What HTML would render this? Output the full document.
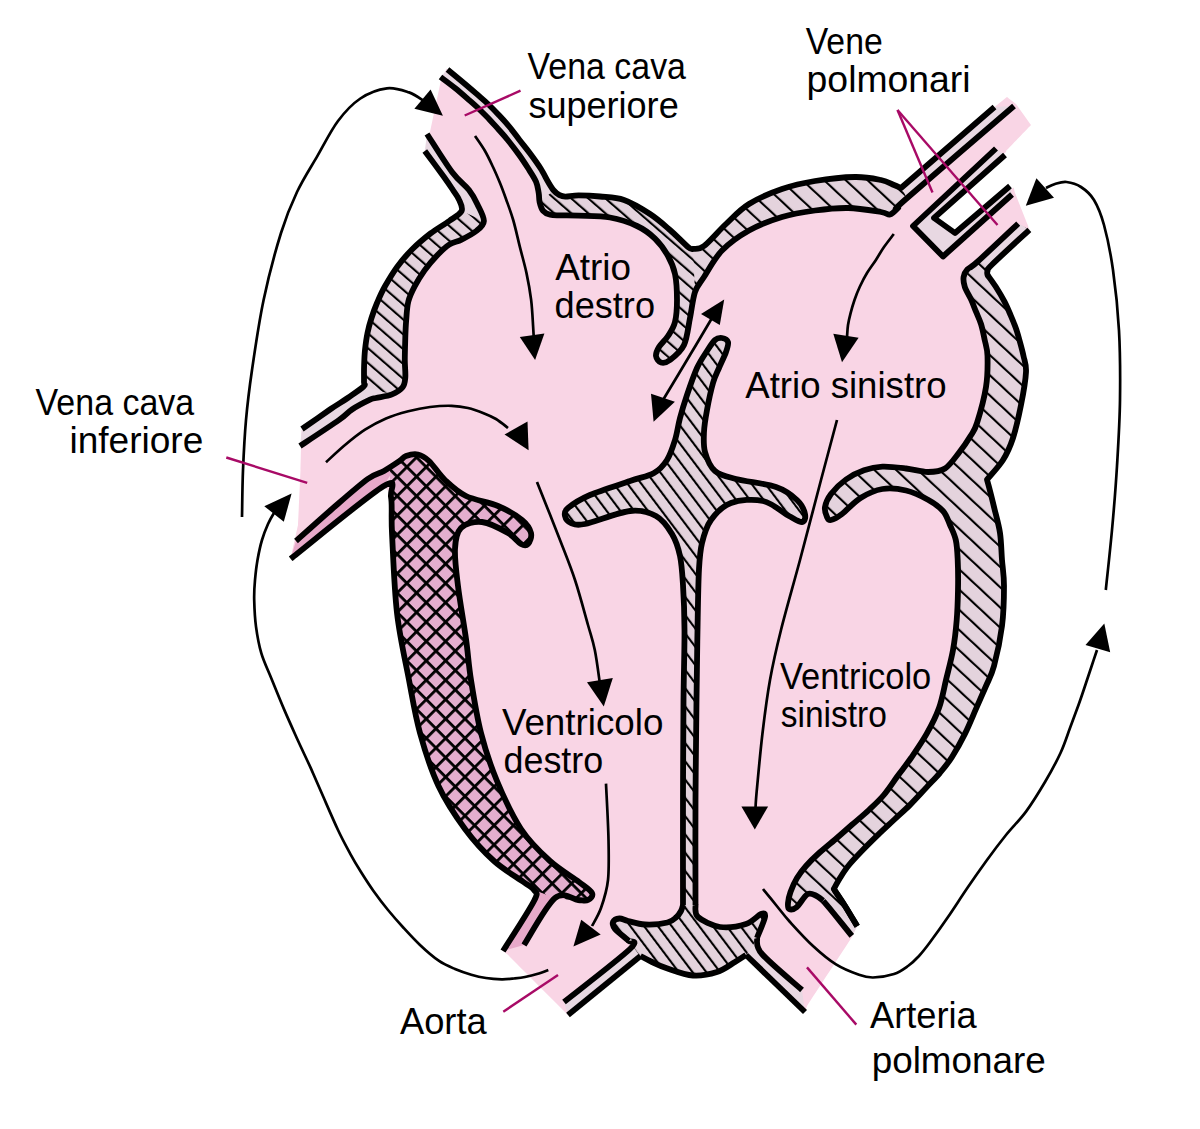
<!DOCTYPE html>
<html><head><meta charset="utf-8"><title>Cuore</title>
<style>html,body{margin:0;padding:0;background:#fff;}body{width:1200px;height:1129px;overflow:hidden;font-family:"Liberation Sans",sans-serif;}svg{display:block;}</style>
</head><body>
<svg width="1200" height="1129" viewBox="0 0 1200 1129"><defs>
<pattern id="hatch" patternUnits="userSpaceOnUse" width="11.20" height="11.20" patternTransform="rotate(-49)"><rect width="11.20" height="11.20" fill="#E4D3DD"/><rect x="0" y="0" width="2.10" height="11.20" fill="#000"/></pattern>
<pattern id="hatchS" patternUnits="userSpaceOnUse" width="11.00" height="11.00" patternTransform="rotate(-37)"><rect width="11.00" height="11.00" fill="#E4D3DD"/><rect x="0" y="0" width="2.10" height="11.00" fill="#000"/></pattern>
<pattern id="hatchW" patternUnits="userSpaceOnUse" width="14.80" height="14.80" patternTransform="rotate(-47)"><rect width="14.80" height="14.80" fill="#E4D3DD"/><rect x="0" y="0" width="2.10" height="14.80" fill="#000"/></pattern>
<pattern id="xhatch" patternUnits="userSpaceOnUse" width="13.7" height="13.7" patternTransform="rotate(45)"><rect width="13.7" height="13.7" fill="#E4AECE"/><rect x="0" y="0" width="2.8" height="13.7" fill="#000"/><rect x="0" y="0" width="13.7" height="2.8" fill="#000"/></pattern>
</defs>
<path d="M441.0,80.0 C441.8,78.3 445.2,71.7 446.0,70.0 C446.2,69.9 444.8,67.6 447.5,69.5 C450.2,71.4 457.2,77.5 462.0,81.5 C466.8,85.5 471.7,89.7 476.0,93.4 C480.3,97.2 484.1,100.3 488.0,104.0 C491.9,107.7 495.4,111.4 499.1,115.3 C502.8,119.2 506.6,123.4 510.0,127.5 C513.4,131.6 516.2,135.7 519.5,140.0 C522.8,144.3 526.4,148.6 529.9,153.3 C533.4,158.0 537.4,163.4 540.5,168.3 C543.6,173.2 546.3,178.8 548.5,182.5 C550.7,186.2 552.0,188.4 553.8,190.5 C555.6,192.6 557.2,193.9 559.1,194.9 C561.0,195.9 562.0,196.6 565.3,196.7 C568.5,196.8 572.8,195.4 578.6,195.4 C584.4,195.4 592.4,195.7 600.0,196.5 C607.6,197.3 615.7,197.1 624.0,200.0 C632.3,202.9 642.3,209.0 650.0,214.0 C657.7,219.0 663.7,224.5 670.0,230.0 C676.3,235.5 684.2,243.8 688.0,247.0 C691.8,250.2 690.3,249.2 693.0,249.0 C695.7,248.8 698.5,250.2 704.0,246.0 C709.5,241.8 718.5,231.0 726.0,224.0 C733.5,217.0 739.7,209.8 749.0,204.0 C758.3,198.2 771.0,192.8 782.0,189.0 C793.0,185.2 802.8,183.0 815.0,181.0 C827.2,179.0 844.0,177.2 855.0,177.0 C866.0,176.8 874.5,178.7 881.0,180.0 C887.5,181.3 890.7,183.7 894.0,185.0 C897.3,186.3 884.2,201.0 901.0,188.0 C917.8,175.0 978.9,120.5 994.5,107.0 C996.6,105.3 1004.9,98.7 1007.0,97.0 C1008.5,98.2 1014.5,102.8 1016.0,104.0 C1018.5,107.5 1028.5,121.5 1031.0,125.0 C1026.8,129.3 1010.2,146.7 1006.0,151.0 C1007.5,158.0 1013.5,186.0 1015.0,193.0 C1017.1,198.2 1025.5,219.2 1027.6,224.4 C1027.9,225.3 1029.0,228.9 1029.3,229.8 C1023.1,235.6 999.1,257.6 992.1,264.5 C985.1,271.4 988.3,269.2 987.5,271.0 C986.7,272.8 986.1,272.4 987.5,275.0 C988.9,277.6 993.0,282.4 995.8,286.8 C998.6,291.2 1002.0,296.9 1004.5,301.7 C1007.0,306.5 1008.8,311.0 1010.7,315.4 C1012.6,319.8 1014.2,323.7 1015.7,327.8 C1017.2,331.9 1018.1,335.3 1019.4,340.0 C1020.7,344.7 1022.4,350.7 1023.5,356.0 C1024.6,361.3 1026.4,363.8 1026.0,372.0 C1025.6,380.2 1023.2,394.0 1021.0,405.0 C1018.8,416.0 1016.0,428.8 1013.0,438.0 C1010.0,447.2 1007.3,453.1 1003.0,460.0 C998.7,466.9 989.3,475.0 987.0,479.5 C984.7,484.0 987.8,482.4 989.0,487.0 C990.2,491.6 992.2,499.3 994.0,507.0 C995.8,514.7 998.7,524.2 1000.0,533.0 C1001.3,541.8 1001.3,551.2 1002.0,560.0 C1002.7,568.8 1004.0,575.0 1004.0,586.0 C1004.0,597.0 1003.7,612.7 1002.0,626.0 C1000.3,639.3 996.7,656.0 994.0,666.0 C991.3,676.0 989.0,679.0 986.0,686.0 C983.0,693.0 979.7,700.3 976.2,708.3 C972.7,716.3 968.9,725.8 964.9,733.9 C960.9,742.0 956.1,750.5 952.0,757.0 C947.9,763.5 944.3,767.7 940.0,772.8 C935.7,777.9 931.2,782.3 926.3,787.6 C921.3,792.9 915.6,799.3 910.3,804.6 C905.0,809.9 899.7,814.5 894.4,819.5 C889.1,824.5 883.8,829.3 878.5,834.4 C873.2,839.5 867.4,845.2 862.5,850.3 C857.6,855.4 852.8,860.4 849.0,865.0 C845.2,869.6 842.5,874.0 840.0,878.0 C837.5,882.0 833.1,884.5 833.8,889.0 C834.5,893.5 840.5,898.8 844.4,905.0 C848.3,911.2 855.1,922.8 857.2,926.3 C856.3,928.1 852.9,935.2 852.0,937.0 C844.5,948.5 814.5,994.5 807.0,1006.0 C806.7,1007.0 805.3,1011.0 805.0,1012.0 C795.2,1002.5 755.8,964.5 746.0,955.0 C736.2,945.5 747.8,953.8 746.0,955.0 C744.2,956.2 739.8,959.2 735.0,962.0 C730.2,964.8 724.0,969.8 717.0,972.0 C710.0,974.2 701.2,976.1 693.0,975.5 C684.8,974.9 674.3,970.8 667.5,968.5 C660.7,966.2 656.5,964.1 652.0,962.0 C647.5,959.9 642.4,957.0 640.5,956.0 C628.4,965.8 580.1,1005.2 568.0,1015.0 C557.8,1004.8 517.2,964.2 507.0,954.0 C506.3,953.5 503.7,951.5 503.0,951.0 C508.2,942.7 528.8,911.2 534.0,901.0 C539.2,890.8 535.8,893.2 534.0,890.0 C532.2,886.8 530.2,886.8 523.5,882.0 C516.8,877.2 503.8,869.8 494.0,861.0 C484.2,852.2 474.2,841.5 465.0,829.0 C455.8,816.5 446.0,802.0 438.5,786.0 C431.0,770.0 424.9,750.7 420.0,733.0 C415.1,715.3 412.8,700.0 409.0,680.0 C405.2,660.0 399.8,637.5 397.0,613.0 C394.2,588.5 393.0,552.3 392.0,533.0 C391.0,513.7 392.5,504.8 391.0,497.0 C389.5,489.2 384.3,488.2 383.0,486.5 C367.6,498.6 306.0,546.8 290.6,558.8 C291.8,553.2 296.8,530.6 298.0,525.0 C298.4,515.8 300.1,479.2 300.5,470.0 C300.7,463.5 301.3,437.5 301.5,431.0 C301.6,430.7 301.9,429.3 302.0,429.0 C306.7,425.8 322.4,414.7 330.0,409.5 C337.6,404.3 342.1,401.9 347.7,398.0 C353.3,394.1 361.0,389.1 363.7,386.4 C366.4,383.7 363.9,385.4 364.0,382.0 C364.1,378.6 363.9,371.3 364.1,366.0 C364.3,360.7 364.4,355.5 365.0,350.0 C365.6,344.5 366.4,338.3 367.5,333.0 C368.6,327.7 369.9,323.0 371.5,318.0 C373.1,313.0 374.8,308.2 377.0,303.0 C379.2,297.8 381.3,292.7 384.7,286.7 C388.1,280.7 392.6,273.1 397.1,266.9 C401.7,260.7 406.4,255.1 412.0,249.5 C417.6,243.9 424.4,238.2 430.6,233.4 C436.8,228.7 444.0,224.7 449.2,221.0 C454.4,217.3 460.0,214.5 461.6,211.0 C463.2,207.5 460.6,203.4 459.1,199.9 C457.7,196.4 455.4,193.8 452.9,190.0 C450.4,186.2 448.7,183.5 444.0,177.0 C439.3,170.5 428.0,155.3 424.8,151.0 C425.2,150.2 426.6,146.8 427.0,146.0 Z" fill="#F9D5E5"/>
<path d="M1006.0,152.0 L935.0,218.0 L955.0,233.0 L1013.0,188.0 L1040.0,170.0 L1040.0,140.0 Z" fill="#fff"/>
<path d="M447.5,69.5 C449.9,71.5 457.2,77.5 462.0,81.5 C466.8,85.5 471.7,89.7 476.0,93.4 C480.3,97.2 484.1,100.3 488.0,104.0 C491.9,107.7 495.4,111.4 499.1,115.3 C502.8,119.2 506.6,123.4 510.0,127.5 C513.4,131.6 516.2,135.7 519.5,140.0 C522.8,144.3 526.4,148.6 529.9,153.3 C533.4,158.0 537.4,163.4 540.5,168.3 C543.6,173.2 546.3,178.8 548.5,182.5 C550.7,186.2 552.0,188.4 553.8,190.5 C555.6,192.6 560.9,191.5 559.1,194.9 C557.3,198.3 546.4,209.7 543.1,210.9 C539.9,212.1 540.3,205.0 539.6,202.0 C538.9,199.0 539.3,196.5 538.7,193.1 C538.1,189.7 537.8,185.7 536.0,181.6 C534.2,177.5 530.9,172.7 528.1,168.3 C525.3,163.9 522.6,159.7 519.2,155.0 C515.8,150.3 511.1,144.2 507.7,140.0 C504.3,135.8 502.0,133.3 499.0,130.0 C496.0,126.7 493.2,123.4 489.9,119.9 C486.6,116.4 482.6,112.5 479.0,109.0 C475.4,105.5 472.0,102.6 468.0,99.1 C464.0,95.6 459.6,91.7 455.0,88.0 C450.4,84.3 442.9,78.8 440.5,77.0 Z" fill="#E8D8E2"/>
<path d="M901.0,188.0 L994.5,107.0 L1014.0,106.0 L903.0,203.0 Z" fill="#E8D8E2"/>
<path d="M553.8,190.5 C554.7,191.2 557.2,193.9 559.1,194.9 C561.0,195.9 562.0,196.6 565.3,196.7 C568.5,196.8 572.8,195.4 578.6,195.4 C584.4,195.4 592.4,195.7 600.0,196.5 C607.6,197.3 615.7,197.1 624.0,200.0 C632.3,202.9 642.3,209.0 650.0,214.0 C657.7,219.0 663.7,224.5 670.0,230.0 C676.3,235.5 684.2,243.8 688.0,247.0 C691.8,250.2 691.8,241.5 693.0,249.0 C694.2,256.5 695.5,280.5 695.0,292.0 C694.5,303.5 691.8,309.2 690.0,318.0 C688.2,326.8 687.3,338.0 684.0,345.0 C680.7,352.0 673.8,357.1 670.0,360.0 C666.2,362.9 663.3,363.2 661.0,362.5 C658.7,361.8 656.3,358.6 656.0,356.0 C655.7,353.4 657.0,350.3 659.0,347.0 C661.0,343.7 665.3,340.2 668.0,336.0 C670.7,331.8 673.5,328.0 675.0,322.0 C676.5,316.0 677.0,308.0 677.0,300.0 C677.0,292.0 676.5,281.3 675.0,274.0 C673.5,266.7 671.3,261.9 668.0,256.0 C664.7,250.1 660.2,243.6 655.0,238.6 C649.8,233.6 644.5,229.5 637.0,226.0 C629.5,222.5 619.7,219.2 610.0,217.5 C600.3,215.8 586.8,216.1 578.6,215.7 C570.4,215.3 565.6,215.5 560.9,215.3 C556.2,215.2 553.2,215.5 550.2,214.8 C547.2,214.1 544.9,213.0 543.1,210.9 C541.3,208.8 540.2,203.5 539.6,202.0 Z" fill="url(#hatch)"/>
<path d="M693.0,249.0 C694.8,248.5 698.5,250.2 704.0,246.0 C709.5,241.8 718.5,231.0 726.0,224.0 C733.5,217.0 739.7,209.8 749.0,204.0 C758.3,198.2 771.0,192.8 782.0,189.0 C793.0,185.2 802.8,183.0 815.0,181.0 C827.2,179.0 844.0,177.2 855.0,177.0 C866.0,176.8 874.5,178.7 881.0,180.0 C887.5,181.3 890.7,183.7 894.0,185.0 C897.3,186.3 899.0,185.7 901.0,188.0 C903.0,190.3 906.5,195.7 906.0,199.0 C905.5,202.3 900.7,205.4 898.0,208.0 C895.3,210.6 892.8,213.8 890.0,214.5 C887.2,215.2 888.0,213.1 881.0,212.0 C874.0,210.9 859.0,208.2 848.0,208.0 C837.0,207.8 826.0,209.0 815.0,210.5 C804.0,212.0 793.0,213.7 782.0,217.0 C771.0,220.3 759.0,224.9 749.0,230.5 C739.0,236.1 729.5,242.8 722.0,250.5 C714.5,258.2 708.5,270.1 704.0,277.0 C699.5,283.9 696.5,289.5 695.0,292.0 Z" fill="url(#hatchW)"/>
<path d="M424.8,151.0 C428.0,155.3 439.3,170.5 444.0,177.0 C448.7,183.5 450.4,186.2 452.9,190.0 C455.4,193.8 457.7,196.4 459.1,199.9 C460.6,203.4 457.5,207.5 461.6,211.0 C465.7,214.5 481.2,222.0 483.9,221.0 C486.6,220.0 480.2,210.1 477.7,204.9 C475.2,199.7 473.3,195.5 469.0,190.0 C464.7,184.5 459.0,181.3 452.0,172.0 C445.0,162.7 431.2,140.3 427.0,134.0 Z" fill="#E8D8E2"/>
<path d="M461.6,211.0 C459.5,212.7 454.4,217.3 449.2,221.0 C444.0,224.7 436.8,228.7 430.6,233.4 C424.4,238.2 417.6,243.9 412.0,249.5 C406.4,255.1 401.7,260.7 397.1,266.9 C392.6,273.1 388.1,280.7 384.7,286.7 C381.3,292.7 379.2,297.8 377.0,303.0 C374.8,308.2 373.1,313.0 371.5,318.0 C369.9,323.0 368.6,327.7 367.5,333.0 C366.4,338.3 365.6,344.5 365.0,350.0 C364.4,355.5 364.3,360.7 364.1,366.0 C363.9,371.3 364.1,378.6 364.0,382.0 C363.9,385.4 362.4,384.4 363.7,386.4 C365.0,388.4 367.3,392.7 372.0,394.0 C376.7,395.3 386.9,395.5 392.0,394.4 C397.1,393.3 400.8,388.5 402.6,387.3 C404.4,386.1 402.2,388.9 402.6,387.3 C403.1,385.7 404.9,382.2 405.3,377.6 C405.7,373.1 404.8,366.6 404.8,360.0 C404.8,353.4 405.1,344.4 405.3,337.7 C405.5,331.0 405.7,326.0 406.2,320.0 C406.7,314.0 406.9,307.2 408.3,301.6 C409.7,296.1 411.8,291.9 414.5,286.7 C417.2,281.5 420.7,275.8 424.4,270.6 C428.1,265.4 432.7,260.0 436.8,255.7 C440.9,251.4 445.1,247.3 449.2,244.6 C453.3,241.9 457.1,241.9 461.6,239.6 C466.2,237.3 472.8,234.0 476.5,230.9 C480.2,227.8 482.7,222.7 483.9,221.0 Z" fill="url(#hatch)"/>
<path d="M363.7,386.4 L347.7,398.0 L330.0,409.5 L302.0,429.0 L300.0,446.0 L339.0,420.0 L352.0,409.5 L370.0,399.7 L376.0,398.0 L392.0,394.4 Z" fill="#E8D8E2"/>
<path d="M296.0,541.0 L332.0,509.0 L367.7,479.0 L384.0,471.0 L399.6,461.0 L383.0,486.5 L290.6,558.8 Z" fill="#E7A9C9"/>
<path d="M390.0,466.0 C391.6,465.2 396.9,462.7 399.6,461.0 C402.3,459.3 402.9,457.1 406.0,456.0 C409.1,454.9 414.2,453.7 418.0,454.5 C421.8,455.3 424.5,456.8 429.0,461.0 C433.5,465.2 438.8,474.2 445.0,480.0 C451.2,485.8 457.2,491.7 466.0,496.0 C474.8,500.3 488.7,502.0 498.0,506.0 C507.3,510.0 516.5,515.5 522.0,520.0 C527.5,524.5 530.0,529.0 531.0,533.0 C532.0,537.0 529.7,542.2 528.0,544.0 C526.3,545.8 524.3,545.8 521.0,544.0 C517.7,542.2 514.5,536.7 508.0,533.0 C501.5,529.3 489.8,522.8 482.0,522.0 C474.2,521.2 465.5,523.5 461.0,528.0 C456.5,532.5 455.5,539.3 455.0,549.0 C454.5,558.7 456.2,571.0 458.0,586.0 C459.8,601.0 463.8,623.3 466.0,639.0 C468.2,654.7 468.5,664.3 471.0,680.0 C473.5,695.7 476.7,716.2 481.0,733.0 C485.3,749.8 490.3,765.0 497.0,781.0 C503.7,797.0 512.2,815.7 521.0,829.0 C529.8,842.3 540.3,852.2 550.0,861.0 C559.7,869.8 572.0,876.7 579.0,882.0 C586.0,887.3 590.5,890.0 592.0,893.0 C593.5,896.0 590.3,898.8 588.0,900.0 C585.7,901.2 583.5,900.3 578.0,900.0 C572.5,899.7 562.3,899.7 555.0,898.0 C547.7,896.3 539.2,892.7 534.0,890.0 C528.8,887.3 530.2,886.8 523.5,882.0 C516.8,877.2 503.8,869.8 494.0,861.0 C484.2,852.2 474.2,841.5 465.0,829.0 C455.8,816.5 446.0,802.0 438.5,786.0 C431.0,770.0 424.9,750.7 420.0,733.0 C415.1,715.3 412.8,700.0 409.0,680.0 C405.2,660.0 399.8,637.5 397.0,613.0 C394.2,588.5 393.0,552.3 392.0,533.0 C391.0,513.7 391.3,504.2 391.0,497.0 C390.7,489.8 390.2,491.2 390.0,490.0 Z" fill="url(#xhatch)"/>
<path d="M555.0,898.0 L524.0,945.0 L503.0,951.0 L534.0,901.0 L534.0,890.0 Z" fill="#E7A9C9"/>
<path d="M629.0,941.0 L630.0,949.0 L564.0,1002.0 L568.0,1015.0 L640.5,956.0 Z" fill="#E8D8E2"/>
<path d="M757.0,938.0 L762.0,954.0 L802.0,990.0 L805.0,1012.0 L746.0,955.0 Z" fill="#E8D8E2"/>
<path d="M823.1,900.8 L833.8,913.5 L851.8,935.9 L857.2,926.3 L844.4,905.0 L833.8,889.0 Z" fill="#E8D8E2"/>
<path d="M722.0,338.0 C723.0,338.7 727.3,339.7 728.0,342.0 C728.7,344.3 727.5,347.7 726.0,352.0 C724.5,356.3 721.2,362.8 719.0,368.0 C716.8,373.2 715.0,376.0 713.0,383.0 C711.0,390.0 708.5,401.8 707.0,410.0 C705.5,418.2 704.3,425.0 704.0,432.0 C703.7,439.0 703.2,445.5 705.0,452.0 C706.8,458.5 709.8,466.5 715.0,471.0 C720.2,475.5 725.8,476.3 736.0,479.0 C746.2,481.7 765.8,483.5 776.0,487.0 C786.2,490.5 792.2,495.5 797.0,500.0 C801.8,504.5 804.2,510.3 805.0,514.0 C805.8,517.7 804.7,521.7 802.0,522.0 C799.3,522.3 795.5,519.5 789.0,516.0 C782.5,512.5 772.7,503.2 763.0,501.0 C753.3,498.8 739.7,499.8 731.0,503.0 C722.3,506.2 715.8,513.3 711.0,520.0 C706.2,526.7 704.0,534.8 702.0,543.0 C700.0,551.2 699.8,554.5 699.0,569.0 C698.2,583.5 697.9,608.2 697.5,630.0 C697.1,651.8 696.8,671.7 696.5,700.0 C696.2,728.3 695.7,765.8 695.5,800.0 C695.3,834.2 697.6,887.5 695.5,905.0 C693.4,922.5 685.1,922.5 683.0,905.0 C680.9,887.5 682.9,834.2 683.0,800.0 C683.1,765.8 683.2,728.3 683.5,700.0 C683.8,671.7 684.6,649.2 684.5,630.0 C684.4,610.8 683.8,597.3 683.0,585.0 C682.2,572.7 681.8,564.5 680.0,556.0 C678.2,547.5 676.0,540.7 672.0,534.0 C668.0,527.3 663.0,519.8 656.0,516.0 C649.0,512.2 641.8,509.7 630.0,511.0 C618.2,512.3 594.8,522.0 585.0,524.0 C575.2,526.0 574.3,524.3 571.0,523.0 C567.7,521.7 565.5,518.5 565.0,516.0 C564.5,513.5 563.8,511.5 568.0,508.0 C572.2,504.5 579.7,499.5 590.0,495.0 C600.3,490.5 619.3,484.7 630.0,481.0 C640.7,477.3 647.8,476.5 654.0,473.0 C660.2,469.5 663.5,465.5 667.0,460.0 C670.5,454.5 672.8,447.0 675.0,440.0 C677.2,433.0 678.0,425.5 680.0,418.0 C682.0,410.5 684.2,403.3 687.0,395.0 C689.8,386.7 693.7,375.3 697.0,368.0 C700.3,360.7 704.0,355.7 707.0,351.0 C710.0,346.3 713.7,341.8 715.0,340.0 Z" fill="url(#hatchS)"/>
<path d="M683.0,905.0 C682.7,906.0 682.1,909.0 681.0,911.0 C679.9,913.0 678.8,915.1 676.5,917.0 C674.2,918.9 672.8,921.2 667.5,922.5 C662.2,923.8 651.6,924.8 645.0,924.5 C638.4,924.2 632.2,922.0 628.0,921.0 C623.8,920.0 622.0,918.3 619.5,918.5 C617.0,918.7 613.8,920.2 613.0,922.0 C612.2,923.8 613.3,926.7 615.0,929.0 C616.7,931.3 620.7,934.0 623.0,936.0 C625.3,938.0 626.1,937.7 629.0,941.0 C631.9,944.3 636.7,952.5 640.5,956.0 C644.3,959.5 647.5,959.9 652.0,962.0 C656.5,964.1 660.7,966.2 667.5,968.5 C674.3,970.8 684.8,974.9 693.0,975.5 C701.2,976.1 710.0,974.2 717.0,972.0 C724.0,969.8 730.2,964.8 735.0,962.0 C739.8,959.2 742.3,959.0 746.0,955.0 C749.7,951.0 753.8,944.3 757.0,938.0 C760.2,931.7 764.3,921.0 765.0,917.0 C765.7,913.0 764.2,912.8 761.0,914.0 C757.8,915.2 752.8,921.8 746.0,924.0 C739.2,926.2 728.0,928.2 720.0,927.0 C712.0,925.8 702.1,920.7 698.0,917.0 C693.9,913.3 695.9,907.0 695.5,905.0 Z" fill="url(#hatchS)"/>
<path d="M1029.3,229.8 C1023.1,235.6 999.1,257.6 992.1,264.5 C985.1,271.4 988.3,269.2 987.5,271.0 C986.7,272.8 986.1,272.4 987.5,275.0 C988.9,277.6 993.0,282.4 995.8,286.8 C998.6,291.2 1002.0,296.9 1004.5,301.7 C1007.0,306.5 1008.8,311.0 1010.7,315.4 C1012.6,319.8 1014.2,323.7 1015.7,327.8 C1017.2,331.9 1018.1,335.3 1019.4,340.0 C1020.7,344.7 1022.4,350.7 1023.5,356.0 C1024.6,361.3 1026.4,363.8 1026.0,372.0 C1025.6,380.2 1023.2,394.0 1021.0,405.0 C1018.8,416.0 1016.0,428.8 1013.0,438.0 C1010.0,447.2 1007.3,453.1 1003.0,460.0 C998.7,466.9 989.3,475.0 987.0,479.5 C984.7,484.0 987.8,482.4 989.0,487.0 C990.2,491.6 992.2,499.3 994.0,507.0 C995.8,514.7 998.7,524.2 1000.0,533.0 C1001.3,541.8 1001.3,551.2 1002.0,560.0 C1002.7,568.8 1004.0,575.0 1004.0,586.0 C1004.0,597.0 1003.7,612.7 1002.0,626.0 C1000.3,639.3 996.7,656.0 994.0,666.0 C991.3,676.0 989.0,679.0 986.0,686.0 C983.0,693.0 979.7,700.3 976.2,708.3 C972.7,716.3 968.9,725.8 964.9,733.9 C960.9,742.0 956.1,750.5 952.0,757.0 C947.9,763.5 944.3,767.7 940.0,772.8 C935.7,777.9 931.2,782.3 926.3,787.6 C921.3,792.9 915.6,799.3 910.3,804.6 C905.0,809.9 899.7,814.5 894.4,819.5 C889.1,824.5 883.8,829.3 878.5,834.4 C873.2,839.5 867.4,845.2 862.5,850.3 C857.6,855.4 852.8,860.4 849.0,865.0 C845.2,869.6 842.5,874.0 840.0,878.0 C837.5,882.0 833.1,884.5 833.8,889.0 C834.5,893.5 840.5,898.8 844.4,905.0 C848.3,911.2 860.8,927.0 857.2,926.3 C853.7,925.6 830.0,905.9 823.1,900.8 C816.2,895.7 818.4,896.6 815.7,895.5 C813.1,894.4 810.4,892.4 807.2,894.4 C804.0,896.4 799.6,904.8 796.6,907.2 C793.6,909.6 790.4,909.7 789.0,909.0 C787.6,908.3 787.8,905.8 788.0,903.0 C788.2,900.2 789.0,896.2 790.5,892.0 C792.0,887.8 794.4,882.3 797.0,878.0 C799.6,873.7 802.5,870.0 806.0,866.0 C809.5,862.0 813.0,858.5 818.0,854.0 C823.0,849.5 830.4,843.6 836.0,838.7 C841.6,833.8 846.4,829.6 851.9,824.8 C857.4,820.0 863.6,815.0 868.9,810.0 C874.2,805.0 879.0,800.7 883.8,795.0 C888.6,789.3 893.1,782.2 897.6,776.0 C902.1,769.8 906.2,765.0 911.0,758.0 C915.8,751.0 921.9,742.2 926.6,733.9 C931.3,725.6 935.8,717.0 939.0,708.0 C942.2,699.0 943.7,689.7 946.0,680.0 C948.3,670.3 951.2,660.0 953.0,650.0 C954.8,640.0 955.9,630.0 956.7,620.0 C957.5,610.0 957.8,600.0 958.0,590.0 C958.2,580.0 958.1,568.3 957.7,560.0 C957.3,551.7 957.1,545.8 955.8,540.0 C954.5,534.2 952.1,529.8 950.0,525.0 C947.9,520.2 946.7,515.2 943.0,511.0 C939.3,506.8 934.2,503.1 928.0,499.7 C921.8,496.3 913.6,492.3 906.0,490.5 C898.4,488.7 890.1,487.8 882.5,489.0 C874.9,490.2 867.2,493.8 860.5,498.0 C853.8,502.2 846.9,510.3 842.0,514.0 C837.1,517.7 833.5,519.5 831.0,520.0 C828.5,520.5 828.0,519.2 827.0,517.0 C826.0,514.8 824.3,510.8 825.0,507.0 C825.7,503.2 827.5,498.6 831.0,494.0 C834.5,489.4 840.5,483.4 846.0,479.5 C851.5,475.6 857.9,472.4 864.0,470.3 C870.1,468.2 875.5,467.0 882.5,466.7 C889.5,466.4 898.4,467.6 906.0,468.5 C913.6,469.4 921.5,472.0 928.0,472.0 C934.5,472.0 939.8,471.8 945.0,468.5 C950.2,465.2 955.2,457.4 959.5,452.0 C963.8,446.6 967.6,440.8 970.5,436.0 C973.4,431.2 974.4,431.2 977.0,423.0 C979.6,414.8 984.2,398.2 986.0,387.0 C987.8,375.8 987.7,363.8 987.5,356.0 C987.3,348.2 985.8,345.3 984.7,340.0 C983.6,334.7 982.5,328.7 981.0,324.0 C979.5,319.3 977.7,315.8 976.0,311.7 C974.3,307.6 972.9,303.4 971.0,299.3 C969.1,295.2 966.0,290.5 964.8,286.8 C963.6,283.1 963.2,279.9 963.6,277.0 C964.0,274.1 965.0,272.0 967.3,269.5 C969.6,267.0 968.7,269.6 977.2,262.0 C985.7,254.3 1011.4,230.0 1018.2,223.6 Z" fill="url(#hatchW)"/>
<path d="M1018.2,223.6 L977.2,262.0 L992.1,264.5 L1029.3,229.8 Z" fill="#E8D8E2"/>
<path d="M996.0,148.5 L913.0,226.0 L943.0,256.5 L1012.0,194.5 L1010.0,186.0 L955.0,233.0 L934.0,218.0 L1005.0,155.0 Z" fill="#E8D8E2"/>
<path d="M447.5,69.5 C449.9,71.5 457.2,77.5 462.0,81.5 C466.8,85.5 471.7,89.7 476.0,93.4 C480.3,97.2 484.1,100.3 488.0,104.0 C491.9,107.7 495.4,111.4 499.1,115.3 C502.8,119.2 506.6,123.4 510.0,127.5 C513.4,131.6 516.2,135.7 519.5,140.0 C522.8,144.3 526.4,148.6 529.9,153.3 C533.4,158.0 537.4,163.4 540.5,168.3 C543.6,173.2 546.3,178.8 548.5,182.5 C550.7,186.2 552.0,188.4 553.8,190.5 C555.6,192.6 557.2,193.9 559.1,194.9 C561.0,195.9 562.0,196.6 565.3,196.7 C568.5,196.8 572.8,195.4 578.6,195.4 C584.4,195.4 592.4,195.7 600.0,196.5 C607.6,197.3 615.7,197.1 624.0,200.0 C632.3,202.9 642.3,209.0 650.0,214.0 C657.7,219.0 663.7,224.5 670.0,230.0 C676.3,235.5 684.2,243.8 688.0,247.0 C691.8,250.2 692.2,248.7 693.0,249.0 C694.8,248.5 698.5,250.2 704.0,246.0 C709.5,241.8 718.5,231.0 726.0,224.0 C733.5,217.0 739.7,209.8 749.0,204.0 C758.3,198.2 771.0,192.8 782.0,189.0 C793.0,185.2 802.8,183.0 815.0,181.0 C827.2,179.0 844.0,177.2 855.0,177.0 C866.0,176.8 874.5,178.7 881.0,180.0 C887.5,181.3 890.7,183.7 894.0,185.0 C897.3,186.3 899.8,187.5 901.0,188.0 C916.6,174.5 978.9,120.5 994.5,107.0" fill="none" stroke="#000" stroke-width="5.8" stroke-linejoin="round" stroke-linecap="butt"/>
<path d="M440.5,77.0 C442.9,78.8 450.4,84.3 455.0,88.0 C459.6,91.7 464.0,95.6 468.0,99.1 C472.0,102.6 475.4,105.5 479.0,109.0 C482.6,112.5 486.6,116.4 489.9,119.9 C493.2,123.4 496.0,126.7 499.0,130.0 C502.0,133.3 504.3,135.8 507.7,140.0 C511.1,144.2 515.8,150.3 519.2,155.0 C522.6,159.7 525.3,163.9 528.1,168.3 C530.9,172.7 534.2,177.5 536.0,181.6 C537.8,185.7 538.1,189.7 538.7,193.1 C539.3,196.5 538.9,199.0 539.6,202.0 C540.3,205.0 541.3,208.8 543.1,210.9 C544.9,213.0 547.2,214.1 550.2,214.8 C553.2,215.5 556.2,215.2 560.9,215.3 C565.6,215.5 570.4,215.3 578.6,215.7 C586.8,216.1 600.3,215.8 610.0,217.5 C619.7,219.2 629.5,222.5 637.0,226.0 C644.5,229.5 649.8,233.6 655.0,238.6 C660.2,243.6 664.7,250.1 668.0,256.0 C671.3,261.9 673.5,266.7 675.0,274.0 C676.5,281.3 677.0,292.0 677.0,300.0 C677.0,308.0 676.5,316.0 675.0,322.0 C673.5,328.0 670.7,331.8 668.0,336.0 C665.3,340.2 661.0,343.7 659.0,347.0 C657.0,350.3 655.7,353.4 656.0,356.0 C656.3,358.6 658.7,361.8 661.0,362.5 C663.3,363.2 666.2,362.9 670.0,360.0 C673.8,357.1 680.7,352.0 684.0,345.0 C687.3,338.0 688.2,326.8 690.0,318.0 C691.8,309.2 692.7,298.8 695.0,292.0 C697.3,285.2 699.5,283.9 704.0,277.0 C708.5,270.1 714.5,258.2 722.0,250.5 C729.5,242.8 739.0,236.1 749.0,230.5 C759.0,224.9 771.0,220.3 782.0,217.0 C793.0,213.7 804.0,212.0 815.0,210.5 C826.0,209.0 837.0,207.8 848.0,208.0 C859.0,208.2 874.0,210.9 881.0,212.0 C888.0,213.1 887.2,215.2 890.0,214.5 C892.8,213.8 895.3,210.6 898.0,208.0 C900.7,205.4 886.7,216.0 906.0,199.0 C925.3,182.0 996.0,121.5 1014.0,106.0" fill="none" stroke="#000" stroke-width="5.8" stroke-linejoin="round" stroke-linecap="butt"/>
<path d="M427.0,134.0 C431.2,140.3 445.0,162.7 452.0,172.0 C459.0,181.3 464.7,184.5 469.0,190.0 C473.3,195.5 475.2,199.7 477.7,204.9 C480.2,210.1 484.1,216.7 483.9,221.0 C483.7,225.3 480.2,227.8 476.5,230.9 C472.8,234.0 466.2,237.3 461.6,239.6 C457.1,241.9 453.3,241.9 449.2,244.6 C445.1,247.3 440.9,251.4 436.8,255.7 C432.7,260.0 428.1,265.4 424.4,270.6 C420.7,275.8 417.2,281.5 414.5,286.7 C411.8,291.9 409.7,296.1 408.3,301.6 C406.9,307.2 406.7,314.0 406.2,320.0 C405.7,326.0 405.5,331.0 405.3,337.7 C405.1,344.4 404.8,353.4 404.8,360.0 C404.8,366.6 405.7,373.1 405.3,377.6 C404.9,382.2 404.8,384.5 402.6,387.3 C400.4,390.1 396.4,392.6 392.0,394.4 C387.6,396.2 379.7,397.1 376.0,398.0 C372.3,398.9 374.0,397.8 370.0,399.7 C366.0,401.6 357.2,406.1 352.0,409.5 C346.8,412.9 347.7,413.9 339.0,420.0 C330.3,426.1 306.5,441.7 300.0,446.0" fill="none" stroke="#000" stroke-width="5.8" stroke-linejoin="round" stroke-linecap="butt"/>
<path d="M424.8,151.0 C428.0,155.3 439.3,170.5 444.0,177.0 C448.7,183.5 450.4,186.2 452.9,190.0 C455.4,193.8 457.7,196.4 459.1,199.9 C460.6,203.4 463.2,207.5 461.6,211.0 C460.0,214.5 454.4,217.3 449.2,221.0 C444.0,224.7 436.8,228.7 430.6,233.4 C424.4,238.2 417.6,243.9 412.0,249.5 C406.4,255.1 401.7,260.7 397.1,266.9 C392.6,273.1 388.1,280.7 384.7,286.7 C381.3,292.7 379.2,297.8 377.0,303.0 C374.8,308.2 373.1,313.0 371.5,318.0 C369.9,323.0 368.6,327.7 367.5,333.0 C366.4,338.3 365.6,344.5 365.0,350.0 C364.4,355.5 364.3,360.7 364.1,366.0 C363.9,371.3 364.1,378.6 364.0,382.0 C363.9,385.4 366.4,383.7 363.7,386.4 C361.0,389.1 353.3,394.1 347.7,398.0 C342.1,401.9 337.6,404.3 330.0,409.5 C322.4,414.7 306.7,425.8 302.0,429.0" fill="none" stroke="#000" stroke-width="5.8" stroke-linejoin="round" stroke-linecap="butt"/>
<path d="M629.0,941.0 C629.2,942.3 640.8,938.8 630.0,949.0 C619.2,959.2 575.0,993.2 564.0,1002.0" fill="none" stroke="#000" stroke-width="5.8" stroke-linejoin="round" stroke-linecap="butt"/>
<path d="M640.5,956.0 C628.4,965.8 580.1,1005.2 568.0,1015.0" fill="none" stroke="#000" stroke-width="5.8" stroke-linejoin="round" stroke-linecap="butt"/>
<path d="M757.0,938.0 C757.8,940.7 754.5,945.3 762.0,954.0 C769.5,962.7 795.3,984.0 802.0,990.0" fill="none" stroke="#000" stroke-width="5.8" stroke-linejoin="round" stroke-linecap="butt"/>
<path d="M746.0,955.0 C755.8,964.5 795.2,1002.5 805.0,1012.0" fill="none" stroke="#000" stroke-width="5.8" stroke-linejoin="round" stroke-linecap="butt"/>
<path d="M823.1,900.8 C824.9,902.9 829.0,907.6 833.8,913.5 C838.6,919.4 848.8,932.2 851.8,935.9" fill="none" stroke="#000" stroke-width="5.8" stroke-linejoin="round" stroke-linecap="butt"/>
<path d="M833.8,889.0 C835.6,891.7 840.5,898.8 844.4,905.0 C848.3,911.2 855.1,922.8 857.2,926.3" fill="none" stroke="#000" stroke-width="5.8" stroke-linejoin="round" stroke-linecap="butt"/>
<path d="M1029.3,229.8 C1023.1,235.6 999.1,257.6 992.1,264.5 C985.1,271.4 988.3,269.2 987.5,271.0 C986.7,272.8 987.5,274.3 987.5,275.0 C988.9,277.0 993.0,282.4 995.8,286.8 C998.6,291.2 1002.0,296.9 1004.5,301.7 C1007.0,306.5 1008.8,311.0 1010.7,315.4 C1012.6,319.8 1014.2,323.7 1015.7,327.8 C1017.2,331.9 1018.1,335.3 1019.4,340.0 C1020.7,344.7 1022.4,350.7 1023.5,356.0 C1024.6,361.3 1026.4,363.8 1026.0,372.0 C1025.6,380.2 1023.2,394.0 1021.0,405.0 C1018.8,416.0 1016.0,428.8 1013.0,438.0 C1010.0,447.2 1007.3,453.1 1003.0,460.0 C998.7,466.9 989.7,476.2 987.0,479.5 C987.3,480.8 987.8,482.4 989.0,487.0 C990.2,491.6 992.2,499.3 994.0,507.0 C995.8,514.7 998.7,524.2 1000.0,533.0 C1001.3,541.8 1001.3,551.2 1002.0,560.0 C1002.7,568.8 1004.0,575.0 1004.0,586.0 C1004.0,597.0 1003.7,612.7 1002.0,626.0 C1000.3,639.3 996.7,656.0 994.0,666.0 C991.3,676.0 989.0,679.0 986.0,686.0 C983.0,693.0 979.7,700.3 976.2,708.3 C972.7,716.3 968.9,725.8 964.9,733.9 C960.9,742.0 956.1,750.5 952.0,757.0 C947.9,763.5 944.3,767.7 940.0,772.8 C935.7,777.9 931.2,782.3 926.3,787.6 C921.3,792.9 915.6,799.3 910.3,804.6 C905.0,809.9 899.7,814.5 894.4,819.5 C889.1,824.5 883.8,829.3 878.5,834.4 C873.2,839.5 867.4,845.2 862.5,850.3 C857.6,855.4 852.8,860.4 849.0,865.0 C845.2,869.6 842.5,874.0 840.0,878.0 C837.5,882.0 834.8,887.2 833.8,889.0 C835.6,891.7 840.5,898.8 844.4,905.0 C848.3,911.2 855.1,922.8 857.2,926.3" fill="none" stroke="#000" stroke-width="5.8" stroke-linejoin="round" stroke-linecap="butt"/>
<path d="M1018.2,223.6 C1011.4,230.0 985.7,254.3 977.2,262.0 C968.7,269.6 969.6,267.0 967.3,269.5 C965.0,272.0 964.0,274.1 963.6,277.0 C963.2,279.9 963.6,283.1 964.8,286.8 C966.0,290.5 969.1,295.2 971.0,299.3 C972.9,303.4 974.3,307.6 976.0,311.7 C977.7,315.8 979.5,319.3 981.0,324.0 C982.5,328.7 983.6,334.7 984.7,340.0 C985.8,345.3 987.3,348.2 987.5,356.0 C987.7,363.8 987.8,375.8 986.0,387.0 C984.2,398.2 979.6,414.8 977.0,423.0 C974.4,431.2 973.4,431.2 970.5,436.0 C967.6,440.8 963.8,446.6 959.5,452.0 C955.2,457.4 950.2,465.2 945.0,468.5 C939.8,471.8 934.5,472.0 928.0,472.0 C921.5,472.0 913.6,469.4 906.0,468.5 C898.4,467.6 889.5,466.4 882.5,466.7 C875.5,467.0 870.1,468.2 864.0,470.3 C857.9,472.4 851.5,475.6 846.0,479.5 C840.5,483.4 834.5,489.4 831.0,494.0 C827.5,498.6 825.7,503.2 825.0,507.0 C824.3,510.8 826.0,514.8 827.0,517.0 C828.0,519.2 828.5,520.5 831.0,520.0 C833.5,519.5 837.1,517.7 842.0,514.0 C846.9,510.3 853.8,502.2 860.5,498.0 C867.2,493.8 874.9,490.2 882.5,489.0 C890.1,487.8 898.4,488.7 906.0,490.5 C913.6,492.3 921.8,496.3 928.0,499.7 C934.2,503.1 939.3,506.8 943.0,511.0 C946.7,515.2 947.9,520.2 950.0,525.0 C952.1,529.8 954.5,534.2 955.8,540.0 C957.1,545.8 957.3,551.7 957.7,560.0 C958.1,568.3 958.2,580.0 958.0,590.0 C957.8,600.0 957.5,610.0 956.7,620.0 C955.9,630.0 954.8,640.0 953.0,650.0 C951.2,660.0 948.3,670.3 946.0,680.0 C943.7,689.7 942.2,699.0 939.0,708.0 C935.8,717.0 931.3,725.6 926.6,733.9 C921.9,742.2 915.8,751.0 911.0,758.0 C906.2,765.0 902.1,769.8 897.6,776.0 C893.1,782.2 888.6,789.3 883.8,795.0 C879.0,800.7 874.2,805.0 868.9,810.0 C863.6,815.0 857.4,820.0 851.9,824.8 C846.4,829.6 841.6,833.8 836.0,838.7 C830.4,843.6 823.0,849.5 818.0,854.0 C813.0,858.5 809.5,862.0 806.0,866.0 C802.5,870.0 799.6,873.7 797.0,878.0 C794.4,882.3 792.0,887.8 790.5,892.0 C789.0,896.2 788.2,900.2 788.0,903.0 C787.8,905.8 787.6,908.3 789.0,909.0 C790.4,909.7 793.6,909.6 796.6,907.2 C799.6,904.8 804.0,896.4 807.2,894.4 C810.4,892.4 813.1,894.4 815.7,895.5 C818.4,896.6 821.9,899.9 823.1,900.8" fill="none" stroke="#000" stroke-width="5.8" stroke-linejoin="round" stroke-linecap="butt"/>
<path d="M996.0,148.5 C982.2,161.4 926.8,213.1 913.0,226.0 C918.0,231.1 938.0,251.4 943.0,256.5 C954.5,246.2 1000.5,204.8 1012.0,194.5" fill="none" stroke="#000" stroke-width="5.8" stroke-linejoin="round" stroke-linecap="butt"/>
<path d="M1005.0,155.0 C993.2,165.5 945.8,207.5 934.0,218.0 C937.5,220.5 951.5,230.5 955.0,233.0 C964.2,225.2 1000.8,193.8 1010.0,186.0" fill="none" stroke="#000" stroke-width="5.8" stroke-linejoin="round" stroke-linecap="butt"/>
<path d="M640.5,956.0 C642.4,957.0 647.5,959.9 652.0,962.0 C656.5,964.1 660.7,966.2 667.5,968.5 C674.3,970.8 684.8,974.9 693.0,975.5 C701.2,976.1 710.0,974.2 717.0,972.0 C724.0,969.8 730.2,964.8 735.0,962.0 C739.8,959.2 744.2,956.2 746.0,955.0" fill="none" stroke="#000" stroke-width="5.8" stroke-linejoin="round" stroke-linecap="butt"/>
<path d="M296.0,541.0 C302.0,535.7 320.1,519.3 332.0,509.0 C343.9,498.7 359.0,485.3 367.7,479.0 C376.4,472.7 378.7,474.0 384.0,471.0 C389.3,468.0 395.9,463.5 399.6,461.0 C403.3,458.5 402.9,457.1 406.0,456.0 C409.1,454.9 414.2,453.7 418.0,454.5 C421.8,455.3 424.5,456.8 429.0,461.0 C433.5,465.2 438.8,474.2 445.0,480.0 C451.2,485.8 457.2,491.7 466.0,496.0 C474.8,500.3 488.7,502.0 498.0,506.0 C507.3,510.0 516.5,515.5 522.0,520.0 C527.5,524.5 530.0,529.0 531.0,533.0 C532.0,537.0 529.7,542.2 528.0,544.0 C526.3,545.8 524.3,545.8 521.0,544.0 C517.7,542.2 514.5,536.7 508.0,533.0 C501.5,529.3 489.8,522.8 482.0,522.0 C474.2,521.2 465.5,523.5 461.0,528.0 C456.5,532.5 455.5,539.3 455.0,549.0 C454.5,558.7 456.2,571.0 458.0,586.0 C459.8,601.0 463.8,623.3 466.0,639.0 C468.2,654.7 468.5,664.3 471.0,680.0 C473.5,695.7 476.7,716.2 481.0,733.0 C485.3,749.8 490.3,765.0 497.0,781.0 C503.7,797.0 512.2,815.7 521.0,829.0 C529.8,842.3 540.3,852.2 550.0,861.0 C559.7,869.8 572.0,876.7 579.0,882.0 C586.0,887.3 590.5,890.0 592.0,893.0 C593.5,896.0 590.3,898.8 588.0,900.0 C585.7,901.2 583.5,900.3 578.0,900.0 C572.5,899.7 564.0,890.5 555.0,898.0 C546.0,905.5 529.2,937.2 524.0,945.0" fill="none" stroke="#000" stroke-width="5.8" stroke-linejoin="round" stroke-linecap="butt"/>
<path d="M290.6,558.8 C306.0,546.8 366.3,496.8 383.0,486.5 C399.7,476.2 389.5,489.2 391.0,497.0 C392.5,504.8 391.0,513.7 392.0,533.0 C393.0,552.3 394.2,588.5 397.0,613.0 C399.8,637.5 405.2,660.0 409.0,680.0 C412.8,700.0 415.1,715.3 420.0,733.0 C424.9,750.7 431.0,770.0 438.5,786.0 C446.0,802.0 455.8,816.5 465.0,829.0 C474.2,841.5 484.2,852.2 494.0,861.0 C503.8,869.8 516.8,877.2 523.5,882.0 C530.2,886.8 532.2,886.8 534.0,890.0 C535.8,893.2 539.2,890.8 534.0,901.0 C528.8,911.2 508.2,942.7 503.0,951.0" fill="none" stroke="#000" stroke-width="5.8" stroke-linejoin="round" stroke-linecap="butt"/>
<path d="M683.0,905.0 C683.0,887.5 682.9,834.2 683.0,800.0 C683.1,765.8 683.2,728.3 683.5,700.0 C683.8,671.7 684.6,649.2 684.5,630.0 C684.4,610.8 683.8,597.3 683.0,585.0 C682.2,572.7 681.8,564.5 680.0,556.0 C678.2,547.5 676.0,540.7 672.0,534.0 C668.0,527.3 663.0,519.8 656.0,516.0 C649.0,512.2 641.8,509.7 630.0,511.0 C618.2,512.3 594.8,522.0 585.0,524.0 C575.2,526.0 574.3,524.3 571.0,523.0 C567.7,521.7 565.5,518.5 565.0,516.0 C564.5,513.5 563.8,511.5 568.0,508.0 C572.2,504.5 579.7,499.5 590.0,495.0 C600.3,490.5 619.3,484.7 630.0,481.0 C640.7,477.3 647.8,476.5 654.0,473.0 C660.2,469.5 663.5,465.5 667.0,460.0 C670.5,454.5 672.8,447.0 675.0,440.0 C677.2,433.0 678.0,425.5 680.0,418.0 C682.0,410.5 684.2,403.3 687.0,395.0 C689.8,386.7 693.7,375.3 697.0,368.0 C700.3,360.7 704.0,355.7 707.0,351.0 C710.0,346.3 712.5,342.2 715.0,340.0 C717.5,337.8 719.8,337.7 722.0,338.0 C724.2,338.3 727.3,339.7 728.0,342.0 C728.7,344.3 727.5,347.7 726.0,352.0 C724.5,356.3 721.2,362.8 719.0,368.0 C716.8,373.2 715.0,376.0 713.0,383.0 C711.0,390.0 708.5,401.8 707.0,410.0 C705.5,418.2 704.3,425.0 704.0,432.0 C703.7,439.0 703.2,445.5 705.0,452.0 C706.8,458.5 709.8,466.5 715.0,471.0 C720.2,475.5 725.8,476.3 736.0,479.0 C746.2,481.7 765.8,483.5 776.0,487.0 C786.2,490.5 792.2,495.5 797.0,500.0 C801.8,504.5 804.2,510.3 805.0,514.0 C805.8,517.7 804.7,521.7 802.0,522.0 C799.3,522.3 795.5,519.5 789.0,516.0 C782.5,512.5 772.7,503.2 763.0,501.0 C753.3,498.8 739.7,499.8 731.0,503.0 C722.3,506.2 715.8,513.3 711.0,520.0 C706.2,526.7 704.0,534.8 702.0,543.0 C700.0,551.2 699.8,554.5 699.0,569.0 C698.2,583.5 697.9,608.2 697.5,630.0 C697.1,651.8 696.8,671.7 696.5,700.0 C696.2,728.3 695.7,765.8 695.5,800.0 C695.3,834.2 695.5,887.5 695.5,905.0" fill="none" stroke="#000" stroke-width="5.8" stroke-linejoin="round" stroke-linecap="butt"/>
<path d="M683.0,905.0 C682.7,906.0 682.1,909.0 681.0,911.0 C679.9,913.0 678.8,915.1 676.5,917.0 C674.2,918.9 672.8,921.2 667.5,922.5 C662.2,923.8 651.6,924.8 645.0,924.5 C638.4,924.2 632.2,922.0 628.0,921.0 C623.8,920.0 622.0,918.3 619.5,918.5 C617.0,918.7 613.8,920.2 613.0,922.0 C612.2,923.8 613.3,926.7 615.0,929.0 C616.7,931.3 620.7,934.0 623.0,936.0 C625.3,938.0 628.0,940.2 629.0,941.0" fill="none" stroke="#000" stroke-width="5.8" stroke-linejoin="round" stroke-linecap="butt"/>
<path d="M757.0,938.0 C758.3,934.5 764.3,921.0 765.0,917.0 C765.7,913.0 764.2,912.8 761.0,914.0 C757.8,915.2 752.8,921.8 746.0,924.0 C739.2,926.2 728.0,928.2 720.0,927.0 C712.0,925.8 702.1,920.7 698.0,917.0 C693.9,913.3 695.9,907.0 695.5,905.0" fill="none" stroke="#000" stroke-width="5.8" stroke-linejoin="round" stroke-linecap="butt"/>
<path d="M242.0,517.0 C242.2,509.2 242.3,486.2 243.0,470.0 C243.7,453.8 244.5,436.7 246.0,420.0 C247.5,403.3 249.1,390.0 252.0,370.0 C254.9,350.0 258.8,322.8 263.6,300.0 C268.4,277.2 275.4,251.0 281.0,233.0 C286.6,215.0 290.9,204.9 297.0,192.0 C303.1,179.1 310.8,167.4 317.6,155.6 C324.4,143.8 330.9,130.5 338.0,121.0 C345.1,111.5 352.2,104.0 360.4,98.5 C368.5,93.0 378.8,89.3 386.9,88.3 C395.0,87.3 402.9,90.4 409.0,92.4 C415.1,94.5 421.1,99.2 423.5,100.6" fill="none" stroke="#000" stroke-width="2.7"/>
<path d="M442.9,115.8 L414.4,108.7 L430.6,89.4 Z" fill="#000"/>
<path d="M548.3,970.0 C546.4,970.7 540.9,972.8 537.0,974.0 C533.1,975.2 528.8,976.2 525.0,977.0 C521.2,977.8 517.9,978.1 514.0,978.5 C510.1,978.9 506.4,979.4 501.7,979.3 C497.0,979.2 491.1,978.8 486.0,978.0 C480.9,977.2 476.5,976.2 471.3,974.7 C466.1,973.2 460.4,971.3 455.0,969.0 C449.6,966.7 444.5,964.7 438.7,960.7 C432.9,956.7 425.8,950.5 420.0,945.0 C414.2,939.5 409.0,933.8 403.7,928.0 C398.4,922.2 393.1,916.2 388.0,910.0 C382.9,903.8 377.8,897.0 373.3,890.7 C368.8,884.4 364.9,878.2 361.0,872.0 C357.1,865.8 353.8,860.3 350.0,853.3 C346.2,846.3 342.4,839.4 338.0,830.0 C333.6,820.6 327.8,807.1 323.3,796.8 C318.8,786.5 315.0,777.6 310.9,768.4 C306.8,759.2 302.9,751.5 298.5,741.8 C294.1,732.0 288.7,720.2 284.3,709.9 C279.9,699.6 275.7,689.2 271.9,679.8 C268.1,670.3 263.9,662.1 261.3,653.2 C258.7,644.3 257.2,635.5 256.0,626.6 C254.8,617.7 254.4,607.8 254.2,600.0 C254.0,592.2 254.4,586.7 255.0,580.0 C255.6,573.3 256.3,566.7 257.5,560.0 C258.7,553.3 260.2,546.0 262.0,540.0 C263.8,534.0 266.0,528.5 268.0,524.0 C270.0,519.5 272.0,516.2 274.0,513.0 C276.0,509.8 279.0,506.3 280.0,505.0" fill="none" stroke="#000" stroke-width="2.7"/>
<path d="M291.6,493.5 L264.3,506.2 L283.8,521.8 Z" fill="#000"/>
<path d="M326.0,462.2 C329.2,459.3 338.5,450.4 345.0,445.0 C351.5,439.6 358.2,434.1 365.0,429.7 C371.8,425.3 378.8,421.6 386.0,418.5 C393.2,415.4 401.0,413.2 408.3,411.3 C415.6,409.4 422.8,407.9 430.0,407.0 C437.2,406.1 445.4,405.6 451.7,405.8 C458.0,406.0 462.6,406.7 468.0,408.0 C473.4,409.3 479.5,411.6 484.2,413.4 C488.9,415.2 492.0,416.6 496.0,419.0 C500.0,421.4 506.0,426.5 508.0,428.0" fill="none" stroke="#000" stroke-width="2.7"/>
<path d="M528.6,450.3 L504.5,434.5 L527.5,421.5 Z" fill="#000"/>
<path d="M475.0,136.0 C476.7,138.5 482.0,145.8 485.0,151.0 C488.0,156.2 490.5,161.7 493.0,167.0 C495.5,172.3 497.8,177.7 500.0,183.0 C502.2,188.3 503.8,192.8 506.0,199.0 C508.2,205.2 510.9,212.1 513.2,220.0 C515.5,227.9 517.6,237.8 519.8,246.6 C522.0,255.4 524.6,264.2 526.5,273.1 C528.4,282.0 530.0,290.9 531.1,299.7 C532.2,308.5 532.7,319.8 533.1,326.2 C533.5,332.6 533.7,336.0 533.8,338.0" fill="none" stroke="#000" stroke-width="2.7"/>
<path d="M535.1,360.1 L519.8,337.0 L544.4,333.5 Z" fill="#000"/>
<path d="M712.0,318.0 C708.3,324.2 698.2,341.3 690.0,355.0 C681.8,368.7 667.5,392.5 663.0,400.0" fill="none" stroke="#000" stroke-width="2.7"/>
<path d="M724.2,299.5 L701.0,314.0 L719.8,325.0 Z" fill="#000"/>
<path d="M653.6,421.7 L651.0,393.8 L674.9,401.8 Z" fill="#000"/>
<path d="M893.8,234.0 C892.2,236.2 887.0,242.7 884.0,247.0 C881.0,251.3 878.7,255.6 875.9,259.9 C873.1,264.2 869.7,268.6 867.0,273.0 C864.3,277.4 862.0,282.0 859.9,286.5 C857.8,291.0 856.0,295.6 854.5,300.0 C853.0,304.4 851.7,308.9 850.6,313.1 C849.5,317.3 848.6,321.0 848.0,325.0 C847.4,329.0 847.2,335.0 847.0,337.0" fill="none" stroke="#000" stroke-width="2.7"/>
<path d="M842.0,362.3 L833.3,333.7 L858.6,337.7 Z" fill="#000"/>
<path d="M837.0,420.0 C834.3,430.0 827.2,456.7 821.0,480.0 C814.8,503.3 806.7,535.0 800.0,560.0 C793.3,585.0 786.0,610.0 781.0,630.0 C776.0,650.0 773.1,662.7 770.0,680.0 C766.9,697.3 764.6,715.5 762.4,734.0 C760.2,752.5 757.9,778.9 756.7,791.2 C755.6,803.5 755.7,805.2 755.5,808.0" fill="none" stroke="#000" stroke-width="2.7"/>
<path d="M754.8,829.4 L741.4,806.5 L768.1,806.5 Z" fill="#000"/>
<path d="M537.0,482.0 C540.8,491.7 553.7,523.7 560.0,540.0 C566.3,556.3 570.3,565.8 575.0,580.0 C579.7,594.2 584.7,613.3 588.0,625.0 C591.3,636.7 592.8,640.3 594.8,650.0 C596.8,659.7 599.0,677.5 599.8,683.0" fill="none" stroke="#000" stroke-width="2.7"/>
<path d="M603.8,706.4 L587.0,682.2 L612.8,677.9 Z" fill="#000"/>
<path d="M606.0,783.6 C606.4,792.9 608.2,823.4 608.5,839.5 C608.8,855.6 609.2,868.6 608.0,880.0 C606.8,891.4 603.7,900.3 601.0,908.0 C598.3,915.7 593.5,923.0 592.0,926.0" fill="none" stroke="#000" stroke-width="2.7"/>
<path d="M573.4,946.6 L581.2,919.7 L600.7,934.6 Z" fill="#000"/>
<path d="M763.0,889.0 C765.2,891.7 771.5,899.5 776.0,905.0 C780.5,910.5 783.8,915.2 790.0,922.0 C796.2,928.8 805.3,938.9 813.0,946.0 C820.7,953.1 828.3,959.6 836.0,964.4 C843.7,969.2 852.8,972.6 859.0,974.8 C865.2,977.0 867.2,977.6 873.0,977.5 C878.8,977.4 888.2,975.9 894.0,974.0 C899.8,972.1 903.8,969.0 908.0,966.0 C912.2,963.0 915.3,960.0 919.0,956.0 C922.7,952.0 925.2,948.8 930.0,942.3 C934.8,935.8 941.7,926.2 948.0,917.0 C954.3,907.8 961.5,896.5 968.0,887.0 C974.5,877.5 980.7,868.7 987.0,860.0 C993.3,851.3 999.5,843.1 1006.0,835.0 C1012.5,826.9 1019.5,820.4 1026.0,811.6 C1032.5,802.8 1039.2,791.8 1045.0,782.0 C1050.8,772.2 1056.3,762.0 1060.5,753.0 C1064.7,744.0 1067.0,736.0 1070.0,728.0 C1073.0,720.0 1075.8,712.5 1078.5,705.0 C1081.2,697.5 1083.8,689.7 1086.0,683.0 C1088.2,676.3 1090.2,670.5 1092.0,665.0 C1093.8,659.5 1096.2,652.5 1097.0,650.0" fill="none" stroke="#000" stroke-width="2.7"/>
<path d="M1104.3,623.5 L1085.5,645.0 L1110.2,652.2 Z" fill="#000"/>
<path d="M1105.8,590.0 C1106.8,580.0 1110.1,550.7 1112.0,530.0 C1113.9,509.3 1115.7,487.7 1117.0,466.0 C1118.3,444.3 1119.7,422.6 1120.0,400.0 C1120.3,377.4 1120.2,352.3 1119.0,330.6 C1117.8,308.9 1115.5,287.6 1113.0,270.0 C1110.5,252.4 1107.2,236.7 1104.0,225.0 C1100.8,213.3 1097.8,206.3 1094.0,200.0 C1090.2,193.7 1085.6,190.0 1081.0,187.0 C1076.4,184.0 1070.8,182.5 1066.5,182.0 C1062.2,181.5 1058.4,183.0 1055.0,184.0 C1051.6,185.0 1047.5,187.3 1046.0,188.0" fill="none" stroke="#000" stroke-width="2.7"/>
<path d="M1025.8,205.8 L1036.4,178.3 L1054.0,197.8 Z" fill="#000"/>
<line x1="464.7" y1="115.5" x2="520.5" y2="90.7" stroke="#A80A66" stroke-width="2.4"/>
<line x1="897.5" y1="110.0" x2="932.5" y2="192.5" stroke="#A80A66" stroke-width="2.4"/>
<line x1="897.5" y1="110.0" x2="997.5" y2="225.0" stroke="#A80A66" stroke-width="2.4"/>
<line x1="226.3" y1="457.5" x2="307.2" y2="482.8" stroke="#A80A66" stroke-width="2.4"/>
<line x1="503.3" y1="1011.7" x2="558.0" y2="975.0" stroke="#A80A66" stroke-width="2.4"/>
<line x1="807.0" y1="967.4" x2="856.3" y2="1024.6" stroke="#A80A66" stroke-width="2.4"/>
<g font-family="Liberation Sans, sans-serif" font-size="37" fill="#000">
<text x="527.5" y="78.6" textLength="158.5" lengthAdjust="spacingAndGlyphs">Vena cava</text>
<text x="528.4" y="118.0" textLength="150.3" lengthAdjust="spacingAndGlyphs">superiore</text>
<text x="805.7" y="54.0" textLength="77.0" lengthAdjust="spacingAndGlyphs">Vene</text>
<text x="806.6" y="91.6" textLength="164.0" lengthAdjust="spacingAndGlyphs">polmonari</text>
<text x="35.6" y="414.9" textLength="158.6" lengthAdjust="spacingAndGlyphs">Vena cava</text>
<text x="69.5" y="452.5" textLength="133.8" lengthAdjust="spacingAndGlyphs">inferiore</text>
<text x="555.2" y="279.7" textLength="75.8" lengthAdjust="spacingAndGlyphs">Atrio</text>
<text x="554.6" y="317.6" textLength="100.4" lengthAdjust="spacingAndGlyphs">destro</text>
<text x="745.3" y="398.3" textLength="201.3" lengthAdjust="spacingAndGlyphs">Atrio sinistro</text>
<text x="501.9" y="735.1" textLength="161.5" lengthAdjust="spacingAndGlyphs">Ventricolo</text>
<text x="503.5" y="773.1" textLength="99.7" lengthAdjust="spacingAndGlyphs">destro</text>
<text x="780.0" y="688.5" textLength="151.2" lengthAdjust="spacingAndGlyphs">Ventricolo</text>
<text x="780.8" y="727.3" textLength="106.1" lengthAdjust="spacingAndGlyphs">sinistro</text>
<text x="400.0" y="1034.2" textLength="86.7" lengthAdjust="spacingAndGlyphs">Aorta</text>
<text x="870.0" y="1027.5" textLength="106.7" lengthAdjust="spacingAndGlyphs">Arteria</text>
<text x="871.7" y="1073.3" textLength="174.1" lengthAdjust="spacingAndGlyphs">polmonare</text>
</g></svg>
</body></html>
